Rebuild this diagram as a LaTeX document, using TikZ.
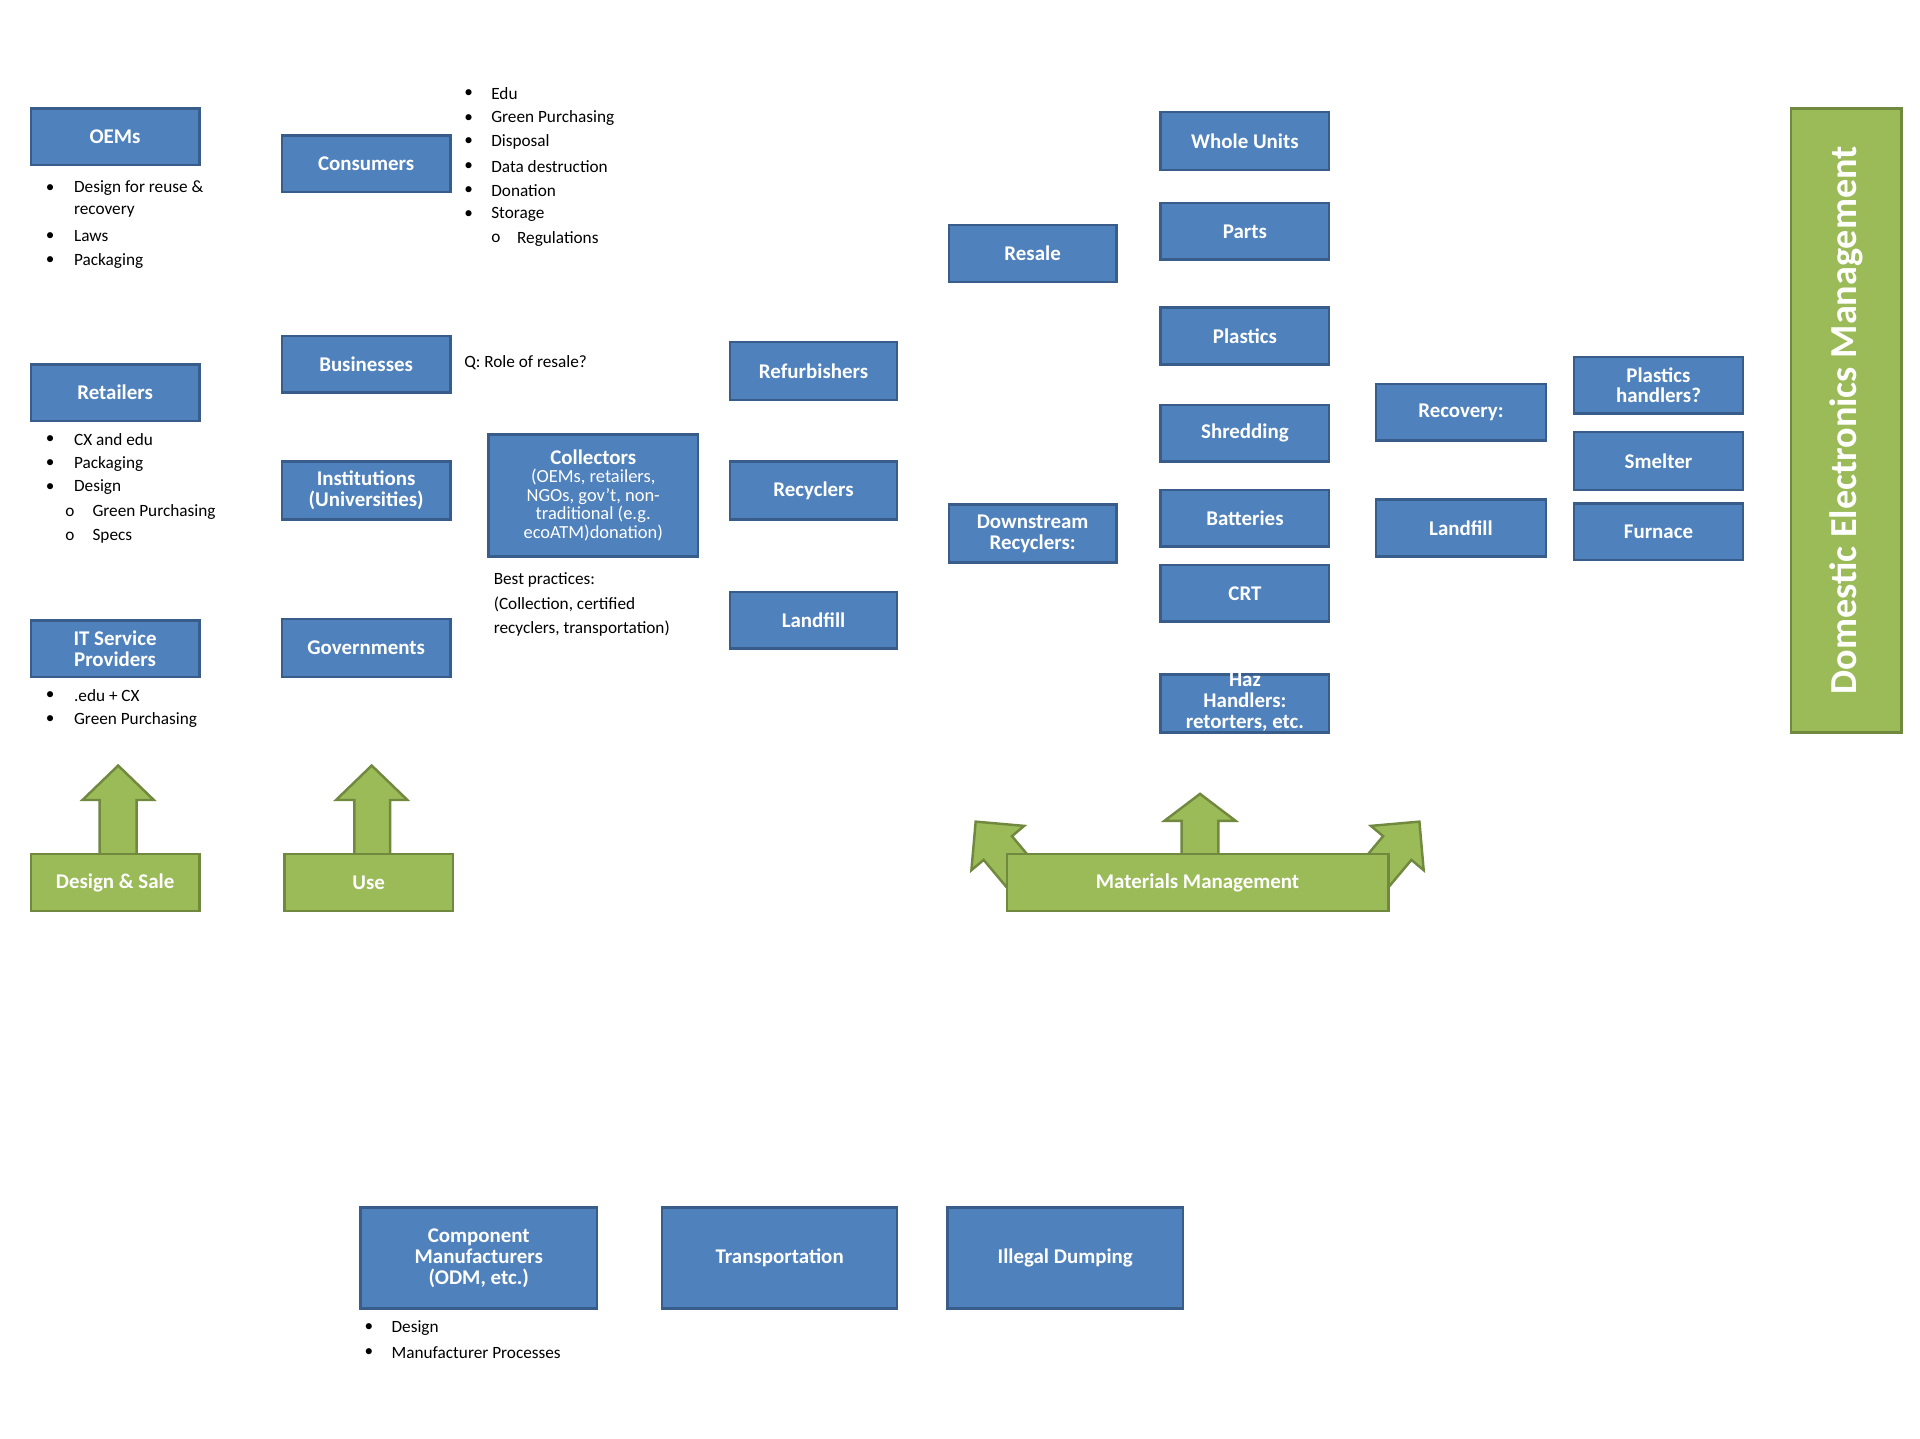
\documentclass[tikz,border=0pt]{standalone}
\usepackage{fontspec}
\setmainfont{Carlito}
\begin{document}
\begin{tikzpicture}[x=1pt,y=-1pt,
  box/.style={fill=blue!50!cyan!40!black!0, fill={rgb,255:red,79;green,129;blue,189}, draw={rgb,255:red,56;green,93;blue,138}, line width=2pt, text=white, font=\fontsize{17}{17}\selectfont\bfseries, align=center, inner sep=0pt, anchor=center},
  gbox/.style={box, fill={rgb,255:red,155;green,187;blue,89}, draw={rgb,255:red,113;green,137;blue,63}},
  garrow/.style={fill={rgb,255:red,155;green,187;blue,89}, draw={rgb,255:red,113;green,137;blue,63}, line width=2pt, line join=miter},
  txt/.style={anchor=west, inner sep=0pt, font=\fontsize{14}{19.5}\selectfont}]
\newcommand{\bx}[7][box]{\node[#1, minimum width={#5pt-#3pt}, minimum height={#6pt-#4pt}] (#2) at ({(#3+#5)/2},{(#4+#6)/2}) {#7};}
\newcommand{\li}[4]{\node[txt] (#1) at (#2,#4) {#3};}
\useasboundingbox (0,0) rectangle (1560,1169);
% boxes
\bx{oems}{25}{88}{162}{134}{OEMs}
\bx{cons}{229}{110}{366}{156}{Consumers}
\bx{ret}{25}{296}{162}{342}{Retailers}
\bx{bus}{229}{273}{366}{319}{Businesses}
\bx{inst}{229}{375}{366}{422}{Institutions\\(Universities)}
\bx{its}{25}{504}{162}{550}{IT Service\\Providers}
\bx{gov}{229}{503}{366}{550}{Governments}
\bx{coll}{397}{353}{567}{452}{Collectors\\[-2pt]{\fontsize{15}{15}\selectfont\mdseries (OEMs, retailers,}\\[-2pt]{\fontsize{15}{15}\selectfont\mdseries NGOs, gov't, non-}\\[-2pt]{\fontsize{15}{15}\selectfont\mdseries traditional (e.g.}\\[-2pt]{\fontsize{15}{15}\selectfont\mdseries ecoATM)donation)}}
\bx{refu}{593}{278}{729}{325}{Refurbishers}
\bx{recy}{593}{375}{729}{422}{Recyclers}
\bx{land}{593}{481}{729}{527}{Landfill}
\bx{resale}{771}{183}{907}{229}{Resale}
\bx{down}{771}{410}{907}{457}{Downstream\\Recyclers:}
\bx{whole}{943}{91}{1080}{138}{Whole Units}
\bx{parts}{943}{165}{1080}{211}{Parts}
\bx{plas}{943}{250}{1080}{296}{Plastics}
\bx{shred}{943}{329}{1080}{375}{Shredding}
\bx{batt}{943}{398}{1080}{444}{Batteries}
\bx{crt}{943}{459}{1080}{505}{CRT}
\bx{haz}{943}{548}{1080}{595}{\\[-8pt]Haz\\Handlers:\\retorters, etc.}
\bx{recov}{1118}{312}{1256}{358}{Recovery:}
\bx{land2}{1118}{406}{1256}{452}{Landfill}
\bx{plh}{1279}{290}{1416}{336}{Plastics\\handlers?}
\bx{smel}{1279}{351}{1416}{398}{Smelter}
\bx{furn}{1279}{409}{1416}{455}{Furnace}
\bx{comp}{293}{981}{485}{1063}{Component\\Manufacturers\\(ODM, etc.)}
\bx{trans}{538}{981}{729}{1063}{Transportation}
\bx{illeg}{770}{981}{961}{1063}{Illegal Dumping}
% green
\node[gbox, minimum width=90pt, minimum height=507pt] (dem) at (1500,341.5) {};
\node[text=white, font=\fontsize{31}{31}\selectfont\bfseries, rotate=90] (demt) at (1500,341.5) {Domestic Electronics Management};
% arrows
\draw[garrow] (81,694) -- (81,650) -- (67,650) -- (96,622) -- (125,650) -- (111,650) -- (111,694);
\draw[garrow] (288,694) -- (288,650) -- (273,650) -- (302,622) -- (331,650) -- (317,650) -- (317,694);
\draw[garrow] (960,694) -- (960,667) -- (946,667) -- (975,645) -- (1004,667) -- (990,667) -- (990,694);
\begin{scope}[shift={(830,712)}, rotate=40]
\draw[garrow] (-15,0) -- (-15,-30) -- (-28,-30) -- (0,-58) -- (28,-30) -- (15,-30) -- (15,0);
\end{scope}
\begin{scope}[shift={(1116,712)}, rotate=-40]
\draw[garrow] (-15,0) -- (-15,-30) -- (-28,-30) -- (0,-58) -- (28,-30) -- (15,-30) -- (15,0);
\end{scope}
\bx[gbox]{ds}{25}{694}{162}{740}{Design \& Sale}
\bx[gbox]{use}{231}{694}{368}{740}{Use}
\bx[gbox]{mm}{818}{694}{1128}{740}{Materials Management}
% lists
\foreach \y/\t in {153/Design for reuse \&, 192/Laws/compliance, 212/Packaging, 357/CX and edu, 377/Packaging, 396/Design, 565/.edu + CX, 585/Green Purchasing}{\node[txt] at (37,\y) {•}; \node[txt] at (60,\y) {\t};}
\li{oa}{60}{recovery}{172}
\foreach \y/\t in {416/Green Purchasing, 436/Specs}{\node[txt] at (53,\y) {o}; \node[txt] at (75,\y) {\t};}
\foreach \y/\t in {76/Edu, 96/Green Purchasing, 115/Disposal, 135/Data destruction, 155/Donation, 174/Storage/hoarding}{\node[txt] at (377,\y) {•}; \node[txt] at (399,\y) {\t};}
\node[txt] at (399,194) {o}; \li{reg}{420}{Regulations}{194}
\li{q}{377}{Q: Role of resale?}{295}
\li{bp1}{401}{Best practices:}{471}
\li{bp2}{401}{(Collection, certified}{491}
\li{bp3}{401}{recyclers, transportation)}{511}
\foreach \y/\t in {1079/Design, 1099/Manufacturer Processes}{\node[txt] at (296,\y) {•}; \node[txt] at (318,\y) {\t};}
\end{tikzpicture}
\end{document}
